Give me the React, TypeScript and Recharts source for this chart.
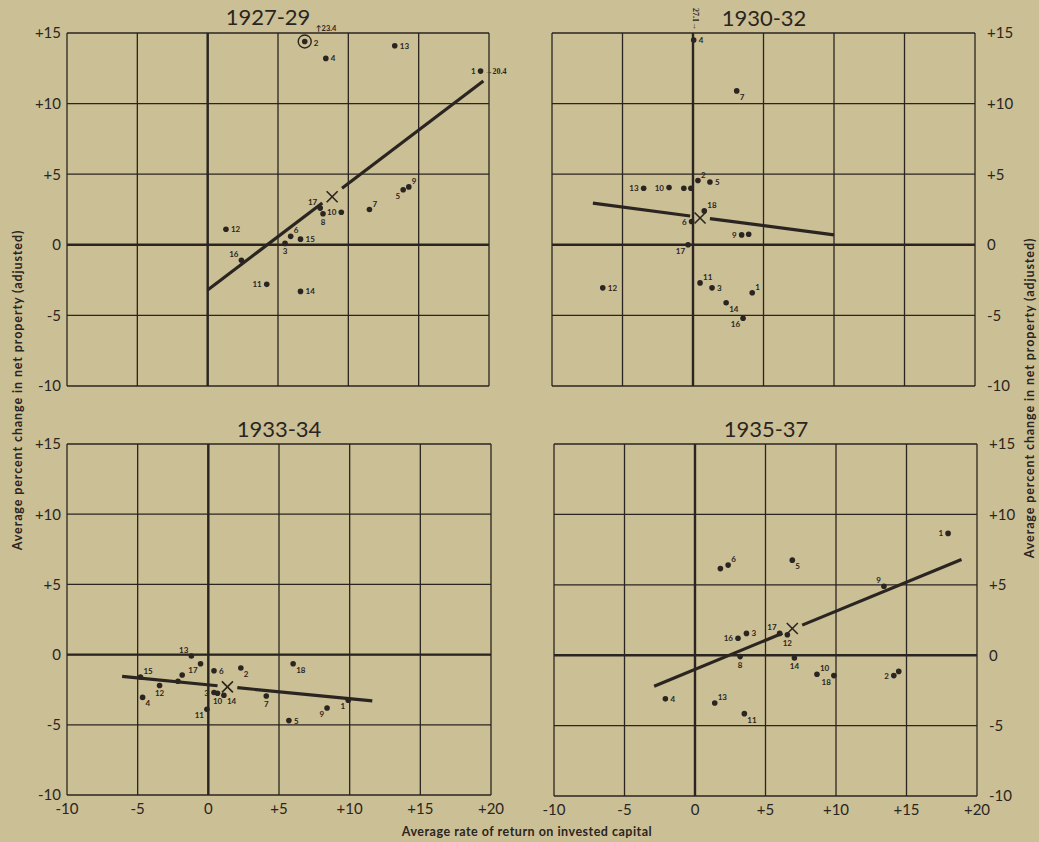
import React from 'react';
import { ScatterChart, Scatter, XAxis, YAxis, CartesianGrid, ReferenceLine, ReferenceDot, Label } from 'recharts';

const xTicks = [-10, -5, 0, 5, 10, 15, 20];
const yTicks = [-10, -5, 0, 5, 10, 15];

// 1927-29
const ids1927 = ['2', '4', '13', '1', '12', '16', '11', '14', '3', '6', '15', '17', '8', '10', '7', '5', '9'];
const ret1927 = [6.9, 8.4, 13.3, 19.4, 1.3, 2.4, 4.2, 6.6, 5.5, 5.9, 6.6, 8.0, 8.2, 9.5, 11.5, 13.9, 14.3];
const chg1927 = [14.4, 13.2, 14.1, 12.3, 1.1, -1.1, -2.8, -3.3, 0.1, 0.6, 0.4, 2.6, 2.2, 2.3, 2.5, 3.9, 4.1];
const mean1927 = [8.85, 3.4];
const fit1927 = { x: [0, 19.6], y: [-3.2, 11.6] };

// 1930-32
const ids1930 = ['4', '7', '2', '5', '10', '13', '', '', '18', '6', '9', '', '17', '12', '11', '3', '14', '16', '1'];
const ret1930 = [0.05, 3.1, 0.35, 1.2, -1.7, -3.5, -0.65, -0.15, 0.8, -0.1, 3.45, 3.95, -0.35, -6.4, 0.5, 1.35, 2.35, 3.55, 4.2];
const chg1930 = [14.5, 10.9, 4.55, 4.45, 4.05, 4.0, 4.0, 4.0, 2.4, 1.65, 0.7, 0.75, 0.0, -3.05, -2.7, -3.05, -4.1, -5.2, -3.4];
const mean1930 = [0.5, 1.9];
const fit1930 = { x: [-7.1, 10.0], y: [2.95, 0.7] };

// 1933-34
const ids1933 = ['15', '4', '12', '', '', '13', '17', '6', '2', '18', '3', '10', '14', '11', '7', '5', '9', '1'];
const ret1933 = [-4.8, -4.65, -3.45, -2.15, -1.85, -1.2, -0.55, 0.4, 2.3, 6.0, 0.4, 0.65, 1.1, -0.1, 4.1, 5.7, 8.4, 9.9];
const chg1933 = [-1.6, -3.05, -2.2, -1.9, -1.45, -0.1, -0.65, -1.15, -0.95, -0.65, -2.7, -2.75, -2.9, -3.9, -2.95, -4.7, -3.8, -3.25];
const mean1933 = [1.35, -2.3];
const fit1933 = { x: [-6.1, 11.6], y: [-1.55, -3.3] };

// 1935-37
const ids1935 = ['1', '', '6', '5', '9', '16', '3', '17', '12', '8', '14', '10', '18', '2', '', '4', '13', '11'];
const ret1935 = [17.95, 1.8, 2.35, 6.9, 13.4, 3.05, 3.65, 6.0, 6.55, 3.2, 7.05, 8.65, 9.85, 14.1, 14.45, -2.1, 1.4, 3.5];
const chg1935 = [8.65, 6.15, 6.4, 6.75, 4.9, 1.2, 1.55, 1.55, 1.45, -0.1, -0.2, -1.35, -1.45, -1.45, -1.15, -3.1, -3.4, -4.15];
const mean1935 = [6.9, 1.9];
const fit1935 = { x: [-2.9, 18.9], y: [-2.2, 6.8] };

const INK = '#2a2520';
const BG = '#cbbf96';
const FONT = 'Lato, "DejaVu Sans", sans-serif';

const sides1927: Record<string, string> = {
  '2': 'R', '4': 'r', '13': 'r', '1': 'l', '12': 'r', '16': 'tl', '11': 'l', '14': 'r', '3': 'b',
  '6': 'tr', '15': 'r', '17': 'tl', '8': 'b', '10': 'l', '7': 'tr', '5': 'bl', '9': 'tr',
};
const sides1930: Record<string, string> = {
  '4': 'r', '7': 'br', '2': 'tr', '5': 'r', '10': 'l', '13': 'l', '18': 'tr', '6': 'l', '9': 'l',
  '17': 'bl', '12': 'r', '11': 'tr', '3': 'r', '14': 'br', '16': 'bl', '1': 'tr',
};
const sides1933: Record<string, string> = {
  '15': 'tr', '4': 'br', '12': 'b', '13': 'tl', '17': 'bl', '6': 'r', '2': 'br', '18': 'br', '3': 'l',
  '10': 'b', '14': 'br', '11': 'bl', '7': 'b', '5': 'r', '9': 'bl', '1': 'bl',
};
const sides1935: Record<string, string> = {
  '1': 'l', '6': 'tr', '5': 'br', '9': 'tl', '16': 'l', '3': 'r', '17': 'tl', '12': 'b', '8': 'b',
  '14': 'b', '10': 'tr', '18': 'bl', '2': 'l', '4': 'r', '13': 'tr', '11': 'br',
};

const fmt = (v: number) => (v > 0 ? `+${v}` : `${v}`);

const toPoints = (ids: string[], xs: number[], ys: number[]) =>
  ids.map((id, i) => ({ id, x: xs[i], y: ys[i] }));

const offsets: Record<string, [number, number, string]> = {
  r: [5, 3, 'start'],
  R: [9, 5, 'start'],
  l: [-5, 3, 'end'],
  t: [0, -5, 'middle'],
  b: [0, 11, 'middle'],
  tr: [3, -3, 'start'],
  tl: [-3, -3, 'end'],
  br: [3, 9, 'start'],
  bl: [-3, 9, 'end'],
};

const makeDot = (sides: Record<string, string>) => (props: any) => {
  const { cx, cy, payload } = props;
  const side = sides[payload.id] || 'r';
  const [dx, dy, anchor] = offsets[side];
  return (
    <g>
      <circle cx={cx} cy={cy} r={2.8} fill={INK} />
      {payload.id && (
        <text x={cx + dx} y={cy + dy} fontSize={8} fontWeight={700} fill={INK} textAnchor={anchor} fontFamily={FONT}>
          {payload.id}
        </text>
      )}
    </g>
  );
};

const MeanMark = (props: any) => {
  const { cx, cy } = props;
  const s = 5.5;
  return (
    <g stroke={INK} strokeWidth={1.6}>
      <line x1={cx - s} y1={cy - s} x2={cx + s} y2={cy + s} />
      <line x1={cx - s} y1={cy + s} x2={cx + s} y2={cy - s} />
    </g>
  );
};

// small off-scale note placed just above its anchor, left-aligned
const noteAbove = (text: string) => (props: any) => {
  const vb = props.viewBox || {};
  return (
    <text x={vb.x} y={vb.y - 2} fontSize={7.5} fontWeight={700} fill={INK} fontFamily={FONT}>
      {text}
    </text>
  );
};

const fitSegments = (fit: { x: number[]; y: number[] }, mean: number[], gap: number) => {
  const slope = (fit.y[1] - fit.y[0]) / (fit.x[1] - fit.x[0]);
  const at = (x: number) => fit.y[0] + slope * (x - fit.x[0]);
  return [
    [{ x: fit.x[0], y: fit.y[0] }, { x: mean[0] - gap, y: at(mean[0] - gap) }],
    [{ x: mean[0] + gap, y: at(mean[0] + gap) }, { x: fit.x[1], y: fit.y[1] }],
  ];
};

interface PanelProps {
  left: number;
  top: number;
  width: number;
  height: number;
  margin: { top: number; right: number; bottom: number; left: number };
  axisSide: 'left' | 'right';
  showX: boolean;
  ids: string[];
  xs: number[];
  ys: number[];
  sides: Record<string, string>;
  mean: number[];
  fit: { x: number[]; y: number[] };
  children?: React.ReactNode;
}

const Panel: React.FC<PanelProps> = ({ left, top, width, height, margin, axisSide, showX, ids, xs, ys, sides, mean, fit, children }) => {
  const data = toPoints(ids, xs, ys);
  const segs = fitSegments(fit, mean, 0.7);
  const tickStyle = { fill: INK, fontSize: 15, fontFamily: FONT };
  return (
    <div style={{ position: 'absolute', left, top }}>
      <ScatterChart width={width} height={height} margin={margin}>
        <CartesianGrid stroke={INK} strokeWidth={1.3} />
        <XAxis
          type="number"
          dataKey="x"
          domain={[-10, 20]}
          ticks={xTicks}
          tickFormatter={fmt}
          hide={!showX}
          height={30}
          axisLine={false}
          tickLine={false}
          tick={tickStyle}
          allowDataOverflow
        />
        <YAxis
          type="number"
          dataKey="y"
          domain={[-10, 15]}
          ticks={yTicks}
          tickFormatter={fmt}
          orientation={axisSide}
          width={axisSide === 'left' ? 67 : 50}
          axisLine={false}
          tickLine={false}
          tickSize={axisSide === 'left' ? 3 : 6}
          tickMargin={axisSide === 'left' ? 3 : 6}
          tick={tickStyle}
          allowDataOverflow
        />
        <ReferenceLine x={0} stroke={INK} strokeWidth={2.4} />
        <ReferenceLine y={0} stroke={INK} strokeWidth={2.4} />
        {segs.map((s, i) => (
          <ReferenceLine key={i} segment={s} stroke={INK} strokeWidth={3.2} ifOverflow="visible" />
        ))}
        <Scatter data={data} shape={makeDot(sides)} isAnimationActive={false} />
        <Scatter data={[{ x: mean[0], y: mean[1] }]} shape={MeanMark} isAnimationActive={false} />
        {children}
      </ScatterChart>
    </div>
  );
};

const axisTitle = 'Average percent change in net property (adjusted)';

const App: React.FC = () => {
  return (
    <div style={{ position: 'absolute', left: 0, top: 0, width: 1039, height: 842, background: BG, overflow: 'hidden' }}>
      <Panel
        left={0} top={0} width={530} height={400}
        margin={{ top: 33, right: 41, bottom: 14, left: 0 }}
        axisSide="left" showX={false}
        ids={ids1927} xs={ret1927} ys={chg1927} sides={sides1927} mean={mean1927} fit={fit1927}
      >
        <ReferenceDot x={6.9} y={14.4} r={6.5} fill="none" stroke={INK} strokeWidth={1.4} ifOverflow="visible" />
        <ReferenceDot x={7.7} y={15} r={0} fill="none" stroke="none" ifOverflow="visible">
          <Label content={noteAbove('↑23.4')} />
        </ReferenceDot>
        <ReferenceDot x={19.4} y={12.3} r={0} fill="none" stroke="none" ifOverflow="visible">
          <Label value="→20.4" position="right" offset={4} fontSize={8} fontWeight={700} fill={INK} />
        </ReferenceDot>
      </Panel>
      <Panel
        left={540} top={0} width={499} height={400}
        margin={{ top: 33, right: 14, bottom: 14, left: 12 }}
        axisSide="right" showX={false}
        ids={ids1930} xs={ret1930} ys={chg1930} sides={sides1930} mean={mean1930} fit={fit1930}
      >
        <ReferenceDot x={0} y={15} r={0} fill="none" stroke="none" ifOverflow="visible">
          <Label value="27.1→" position="top" offset={14} angle={90} fontSize={8} fontWeight={700} fill={INK} />
        </ReferenceDot>
      </Panel>
      <Panel
        left={0} top={420} width={530} height={420}
        margin={{ top: 24, right: 39, bottom: 15, left: 0 }}
        axisSide="left" showX
        ids={ids1933} xs={ret1933} ys={chg1933} sides={sides1933} mean={mean1933} fit={fit1933}
      />
      <Panel
        left={540} top={420} width={499} height={420}
        margin={{ top: 24, right: 12, bottom: 14, left: 14 }}
        axisSide="right" showX
        ids={ids1935} xs={ret1935} ys={chg1935} sides={sides1935} mean={mean1935} fit={fit1935}
      />
      <svg width={1039} height={842} style={{ position: 'absolute', left: 0, top: 0, pointerEvents: 'none' }}>
        <g fill={INK} fontFamily={FONT}>
          <text x={268} y={25} fontSize={22} textAnchor="middle">1927-29</text>
          <text x={764} y={26} fontSize={22} textAnchor="middle">1930-32</text>
          <text x={279} y={437} fontSize={22} textAnchor="middle">1933-34</text>
          <text x={766} y={437} fontSize={22} textAnchor="middle">1935-37</text>
          <text x={527} y={836} fontSize={12.5} fontWeight={700} letterSpacing={0.5} textAnchor="middle">
            Average rate of return on invested capital
          </text>
          <text transform="translate(22,390) rotate(-90)" fontSize={12.5} fontWeight={700} letterSpacing={0.9} textAnchor="middle">
            {axisTitle}
          </text>
          <text transform="translate(1034,398) rotate(-90)" fontSize={12.5} fontWeight={700} letterSpacing={0.9} textAnchor="middle">
            {axisTitle}
          </text>
        </g>
      </svg>
    </div>
  );
};

export default App;
